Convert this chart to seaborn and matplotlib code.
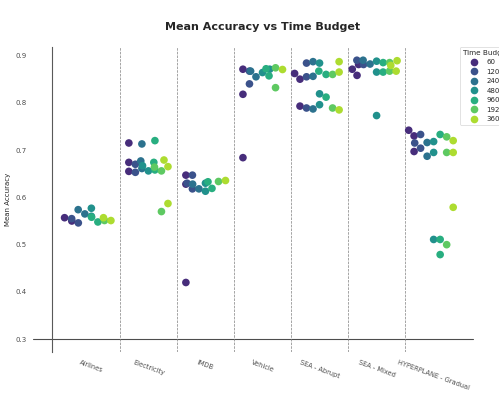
import matplotlib
matplotlib.use("Agg")
import matplotlib.pyplot as plt
import seaborn as sns
import pandas as pd

datasets = ["Airlines", "Electricity", "IMDB", "Vehicle", "SEA - Abrupt", "SEA - Mixed", "HYPERPLANE - Gradual"]
budgets = ["60", "120", "240", "480", "960", "1920", "3600"]

# values per time budget (60 ... 3600) for each dataset
airlines = [[0.557, 0.550], [0.546, 0.555], [0.574, 0.565], [0.577, 0.560],
            [0.558, 0.548], [0.552], [0.557, 0.551]]
electricity = [[0.715, 0.674, 0.655], [0.670, 0.653], [0.713, 0.677, 0.661], [0.667, 0.656],
               [0.720, 0.674, 0.658], [0.664, 0.656, 0.570], [0.679, 0.665, 0.587]]
imdb = [[0.647, 0.628, 0.420], [0.647, 0.630, 0.618], [0.628, 0.618], [0.630, 0.613],
        [0.633, 0.619], [0.635], [0.636]]
vehicle = [[0.871, 0.818, 0.684], [0.867, 0.840], [0.867, 0.855], [0.871, 0.864],
           [0.872, 0.857], [0.874, 0.832], [0.871]]
sea_abrupt = [[0.862, 0.850, 0.793], [0.884, 0.855, 0.789], [0.887, 0.856, 0.787], [0.884, 0.819, 0.796],
              [0.867, 0.860, 0.812], [0.860, 0.789], [0.887, 0.865, 0.785]]
sea_mixed = [[0.881, 0.871, 0.858], [0.890, 0.881], [0.890, 0.882], [0.888, 0.865, 0.773],
             [0.885, 0.865], [0.885, 0.867], [0.889, 0.879, 0.867]]
hyperplane = [[0.742, 0.730, 0.697], [0.733, 0.715, 0.704], [0.716, 0.687], [0.718, 0.695, 0.511],
              [0.733, 0.511, 0.479], [0.728, 0.695, 0.500], [0.720, 0.695, 0.579]]

all_values = [airlines, electricity, imdb, vehicle, sea_abrupt, sea_mixed, hyperplane]

rows = []
for ds, per_budget in zip(datasets, all_values):
    for b, vals in zip(budgets, per_budget):
        for v in vals:
            rows.append({"Dataset": ds, "Time Budget": b, "Mean Accuracy": v})
df = pd.DataFrame(rows)

sns.set_style("white")
fig = plt.figure(figsize=(9.98, 7.96), dpi=50)
ax = fig.add_axes([52 / 499, 1 - 352 / 398, 421 / 499, 305 / 398])

sns.swarmplot(data=df, x="Dataset", y="Mean Accuracy", hue="Time Budget",
              order=datasets, hue_order=budgets, palette="viridis",
              dodge=True, size=11, ax=ax)

ax.set_xlim(-0.69, 6.69)
ax.set_ylim(0.273, 0.918)
ax.set_yticks([0.3, 0.4, 0.5, 0.6, 0.7, 0.8, 0.9])

for s in ["top", "right", "bottom"]:
    ax.spines[s].set_visible(False)
ax.spines["left"].set_color(".35")
ax.spines["left"].set_linewidth(1.6)

ax.axhline(0.3, xmin=-0.045, xmax=1.0, color=".3", lw=1.6, clip_on=False, zorder=0)
for i in range(len(datasets) - 1):
    ax.axvline(i + 0.5, ls="--", color="gray", lw=1.0, zorder=0)

ax.tick_params(axis="y", length=0, pad=37, labelsize=10, labelcolor=".3")
ax.tick_params(axis="x", length=0, pad=10, labelsize=9.5, labelcolor=".3")
for lab in ax.get_xticklabels():
    lab.set_rotation(-20)
    lab.set_ha("center")

ax.set_xlabel("")
ax.set_ylabel("Mean Accuracy", fontsize=10, labelpad=6, color=".15")
ax.set_title("Mean Accuracy vs Time Budget", fontsize=16, fontweight="bold", pad=25, color=".15")

ax.legend(title="Time Budget", loc="upper left", bbox_to_anchor=(408 / 421, 1.0),
          borderaxespad=0, fontsize=10, title_fontsize=10.5)

fig.savefig("out.png", dpi=50)
